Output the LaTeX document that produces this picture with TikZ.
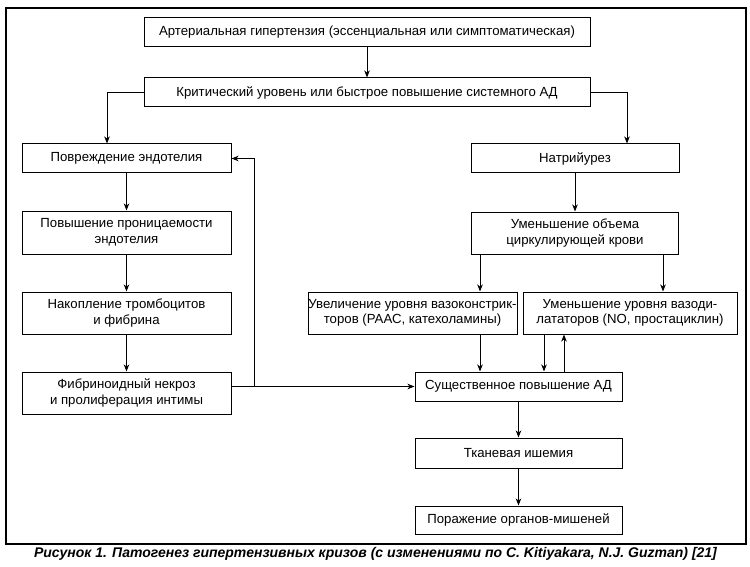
\documentclass[tikz,border=0pt]{standalone}
\usepackage{fontspec}
\setmainfont{Liberation Sans}
\usetikzlibrary{arrows.meta}
\begin{document}
\begin{tikzpicture}[x=1pt,y=-1pt,
  box/.style={draw, line width=1pt, rectangle, align=center, inner sep=0pt, font=\fontsize{13.2}{15.5}\selectfont},
  arr/.style={line width=0.9pt, -{Stealth[length=7pt,width=5.5pt,inset=2pt]}},
  ln/.style={line width=0.9pt}]
\useasboundingbox (0,0) rectangle (750,567);
\draw[line width=1.2pt] (6,8) rectangle (746,544);
\node[box, minimum width=446pt, minimum height=29pt] (b1) at (367,32.5) {Артериальная гипертензия (эссенциальная или симптоматическая)};
\node[box, minimum width=446pt, minimum height=29pt] (b2) at (367,92.5) {Критический уровень или быстрое повышение системного АД};
\node[box, minimum width=209pt, minimum height=29pt] (povr) at (126.5,158.5) {Повреждение эндотелия};
\node[box, minimum width=208pt, minimum height=29pt] (natr) at (575,158.5) {Натрийурез};
\node[box, minimum width=209pt, minimum height=43pt] (pron) at (126.5,232.5) {Повышение проницаемости\\эндотелия};
\node[box, minimum width=207pt, minimum height=42pt] (umob) at (575,233) {Уменьшение объема\\циркулирующей крови};
\node[box, minimum width=209pt, minimum height=42pt] (nakop) at (126.5,313) {Накопление тромбоцитов\\и фибрина};
\node[box, minimum width=209pt, minimum height=42pt] (vazok) at (412.5,313) {Увеличение уровня вазоконстрик-\\торов (РААС, катехоламины)};
\node[box, minimum width=214pt, minimum height=42pt] (vazod) at (630,313) {Уменьшение уровня вазоди-\\лататоров (NO, простациклин)};
\node[box, minimum width=209pt, minimum height=42pt] (fibr) at (126.5,393) {Фибриноидный некроз\\и пролиферация интимы};
\node[box, minimum width=207pt, minimum height=29pt] (sush) at (518.5,386.5) {Существенное повышение АД};
\node[box, minimum width=207pt, minimum height=30pt] (tkan) at (518.5,453) {Тканевая ишемия};
\node[box, minimum width=207pt, minimum height=28pt] (por) at (518.5,520) {Поражение органов-мишеней};
\node[font=\fontsize{14}{16}\selectfont\bfseries\itshape] (cap) at (375.5,553.5) {Рисунок 1. Патогенез гипертензивных кризов (с изменениями по C. Kitiyakara, N.J. Guzman) [21]};
\coordinate (fb) at (254,386.5);
\draw[arr] (b1) -- (b2);
\draw[arr] (b2.west) -| ([xshift=-19.5pt]povr.north);
\draw[arr] (b2.east) -| ([xshift=52pt]natr.north);
\draw[arr] (povr) -- (pron);
\draw[arr] (pron) -- (nakop);
\draw[arr] (nakop) -- (fibr);
\draw[arr] (natr) -- (umob);
\draw[arr] ([xshift=-95pt]umob.south) -- ([xshift=-95pt]umob.south |- vazok.north);
\draw[arr] ([xshift=88pt]umob.south) -- ([xshift=88pt]umob.south |- vazod.north);
\draw[arr] ([xshift=67.5pt]vazok.south) -- ([xshift=67.5pt]vazok.south |- sush.north);
\draw[arr] ([xshift=-86pt]vazod.south) -- ([xshift=-86pt]vazod.south |- sush.north);
\draw[arr] ([xshift=45.5pt]sush.north) -- ([xshift=45.5pt]sush.north |- vazod.south);
\draw[arr] (sush.west -| fibr.east) -- (sush.west);
\draw[arr] (fb) |- (povr.east);
\draw[arr] (sush) -- (tkan);
\draw[arr] (tkan) -- (por);
\end{tikzpicture}
\end{document}
